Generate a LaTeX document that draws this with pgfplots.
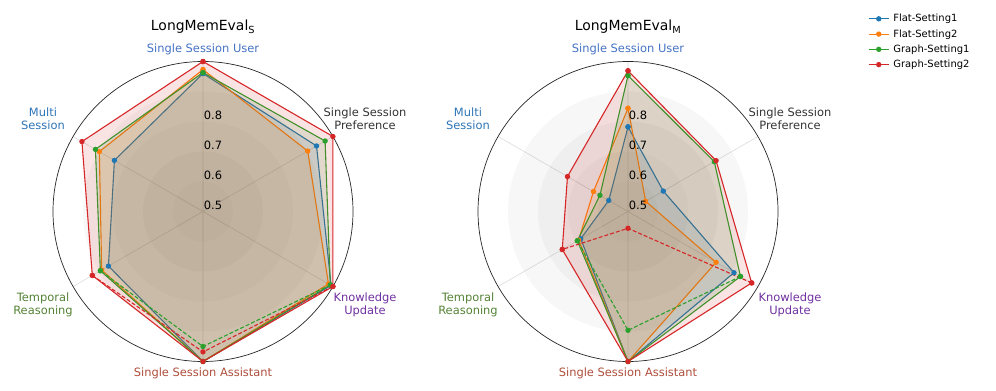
\documentclass[border=0pt]{standalone}
\usepackage{fontspec}
\setmainfont{DejaVu Sans}
\usepackage{pgfplots}
\usepackage{pgfplotstable}
\pgfplotsset{compat=1.18}
\usepgfplotslibrary{polar}

\definecolor{cf1}{HTML}{1F77B4}
\definecolor{cf2}{HTML}{FF7F0E}
\definecolor{cg1}{HTML}{2CA02C}
\definecolor{cg2}{HTML}{D62728}
\definecolor{lssu}{HTML}{4472C4}
\definecolor{lms}{HTML}{2E75B6}
\definecolor{lssp}{HTML}{333333}
\definecolor{lku}{HTML}{7030A0}
\definecolor{lssa}{HTML}{AE4E3B}
\definecolor{ltr}{HTML}{548235}

% angle: 90 SSU, 30 SSP, -30 KU, -90 SSA, -150 TR, -210 MS
\pgfplotstableread{
ang  f1    f2    g1    g2
90   0.960 0.973 0.963 1.000
30   0.937 0.903 0.970 1.000
-30  0.993 0.983 0.990 1.000
-90  1.000 1.000 1.000 1.000
-150 0.864 0.890 0.895 0.926
-210 0.841 0.899 0.914 0.966
-270 0.960 0.973 0.963 1.000
}\dataS
\pgfplotstableread{
ang  g1    g2
-30  0.990 1.000
-90  0.950 0.968
-150 0.895 0.926
}\dashS
\pgfplotstableread{
ang  f1    f2    g1    g2
90   0.782 0.844 0.953 0.969
30   0.636 0.568 0.832 0.839
-30  0.908 0.839 0.933 0.976
-90  1.000 1.000 1.000 1.000
-150 0.682 0.690 0.695 0.753
-210 0.574 0.633 0.608 0.733
-270 0.782 0.844 0.953 0.969
}\dataM
\pgfplotstableread{
ang  g1    g2
-30  0.933 0.976
-90  0.896 0.556
-150 0.695 0.753
}\dashM

\pgfplotsset{
  radar/.style={
    width=300bp, height=300bp, scale only axis, anchor=center, clip=false,
    xmin=0, xmax=360, ymin=0, ymax=0.5,
    xtick={30,90,150,210,270,330}, xticklabels={,,,,,},
    xticklabel style={opacity=0}, ytick=\empty,
    xmajorgrids=true, ymajorgrids=false,
    major grid style={gray!28, line width=0.6bp},
    major tick length=0pt,
    axis line style={black!85, line width=0.7bp},
    y axis line style={draw=none},
  },
  ser/.style={color=#1, line width=1.1bp, mark=*, mark size=2.1bp,
    fill=#1, fill opacity=0.13,
    mark options={solid, fill=#1, fill opacity=1}},
  dsh/.style={color=#1, line width=1.1bp, dash pattern=on 4bp off 2bp,
    mark=*, mark size=2.1bp, mark options={solid, fill=#1}, forget plot},
}
\newcommand{\rings}{%
  \fill[black, opacity=0.03] (axis cs:0,0) circle[radius=120bp];
  \fill[black, opacity=0.03] (axis cs:0,0) circle[radius=90bp];
  \fill[black, opacity=0.03] (axis cs:0,0) circle[radius=60bp];
  \fill[black, opacity=0.03] (axis cs:0,0) circle[radius=30bp];}

\begin{document}
\begin{tikzpicture}
\path[use as bounding box] (0,0) rectangle (996bp,391bp);

\begin{polaraxis}[radar, at={(203bp,179.5bp)}]
\rings
\addplot[ser=cf1] table[x=ang, y expr=\thisrow{f1}-0.5] {\dataS};
\addplot[ser=cf2] table[x=ang, y expr=\thisrow{f2}-0.5] {\dataS};
\addplot[ser=cg1] table[x=ang, y expr=\thisrow{g1}-0.5] {\dataS};
\addplot[ser=cg2] table[x=ang, y expr=\thisrow{g2}-0.5] {\dataS};
\addplot[dsh=cg1] table[x=ang, y expr=\thisrow{g1}-0.5] {\dashS};
\addplot[dsh=cg2] table[x=ang, y expr=\thisrow{g2}-0.5] {\dashS};
\end{polaraxis}

\begin{polaraxis}[radar, at={(628bp,179.5bp)},
  legend style={at={(1.30,1.163)}, anchor=north west, draw=none, fill=none,
    font=\fontsize{10}{12}\selectfont, row sep=3.2bp, inner sep=0pt,
    nodes={inner ysep=1.5bp, inner xsep=4bp}},
  legend cell align=left,
  legend image code/.code={\draw[mark repeat=2, mark phase=2, line width=1.1bp]
    plot coordinates {(0bp,0bp) (10bp,0bp) (20bp,0bp)};}]
\rings
\addplot[ser=cf1] table[x=ang, y expr=\thisrow{f1}-0.5] {\dataM};
\addlegendentry{Flat-Setting1}
\addplot[ser=cf2] table[x=ang, y expr=\thisrow{f2}-0.5] {\dataM};
\addlegendentry{Flat-Setting2}
\addplot[ser=cg1] table[x=ang, y expr=\thisrow{g1}-0.5] {\dataM};
\addlegendentry{Graph-Setting1}
\addplot[ser=cg2] table[x=ang, y expr=\thisrow{g2}-0.5] {\dataM};
\addlegendentry{Graph-Setting2}
\addplot[dsh=cg1] table[x=ang, y expr=\thisrow{g1}-0.5] {\dashM};
\addplot[dsh=cg2] table[x=ang, y expr=\thisrow{g2}-0.5] {\dashM};
\end{polaraxis}

% radial tick labels
\foreach \cx in {203,628}{
  \foreach \k/\t in {0/0.5,1/0.6,2/0.7,3/0.8}{
    \node[font=\fontsize{11.5}{13}\selectfont, inner sep=0pt]
      at ({(\cx+10)*1bp},{(186+30*\k)*1bp}) {\t};
  }
}

% titles
\node[anchor=base, font=\fontsize{14}{16}\selectfont] at (203bp,360bp) {LongMemEval\textsubscript{S}};
\node[anchor=base, font=\fontsize{14}{16}\selectfont] at (628bp,360bp) {LongMemEval\textsubscript{M}};

% category labels
\foreach \cx in {203,628}{
  \begin{scope}[every node/.style={font=\fontsize{11.5}{13.3}\selectfont, align=center, inner sep=0pt}]
  \node[text=lssu] at ({\cx*1bp},342bp) {Single Session User};
  \node[text=lssp] at ({(\cx+162)*1bp},272.5bp) {Single Session\\Preference};
  \node[text=lku]  at ({(\cx+162)*1bp},86.5bp) {Knowledge\\Update};
  \node[text=lssa] at ({\cx*1bp},17.5bp) {Single Session Assistant};
  \node[text=ltr]  at ({(\cx-160)*1bp},86.5bp) {Temporal\\Reasoning};
  \node[text=lms]  at ({(\cx-160)*1bp},272.5bp) {Multi\\Session};
  \end{scope}
}
\end{tikzpicture}
\end{document}
